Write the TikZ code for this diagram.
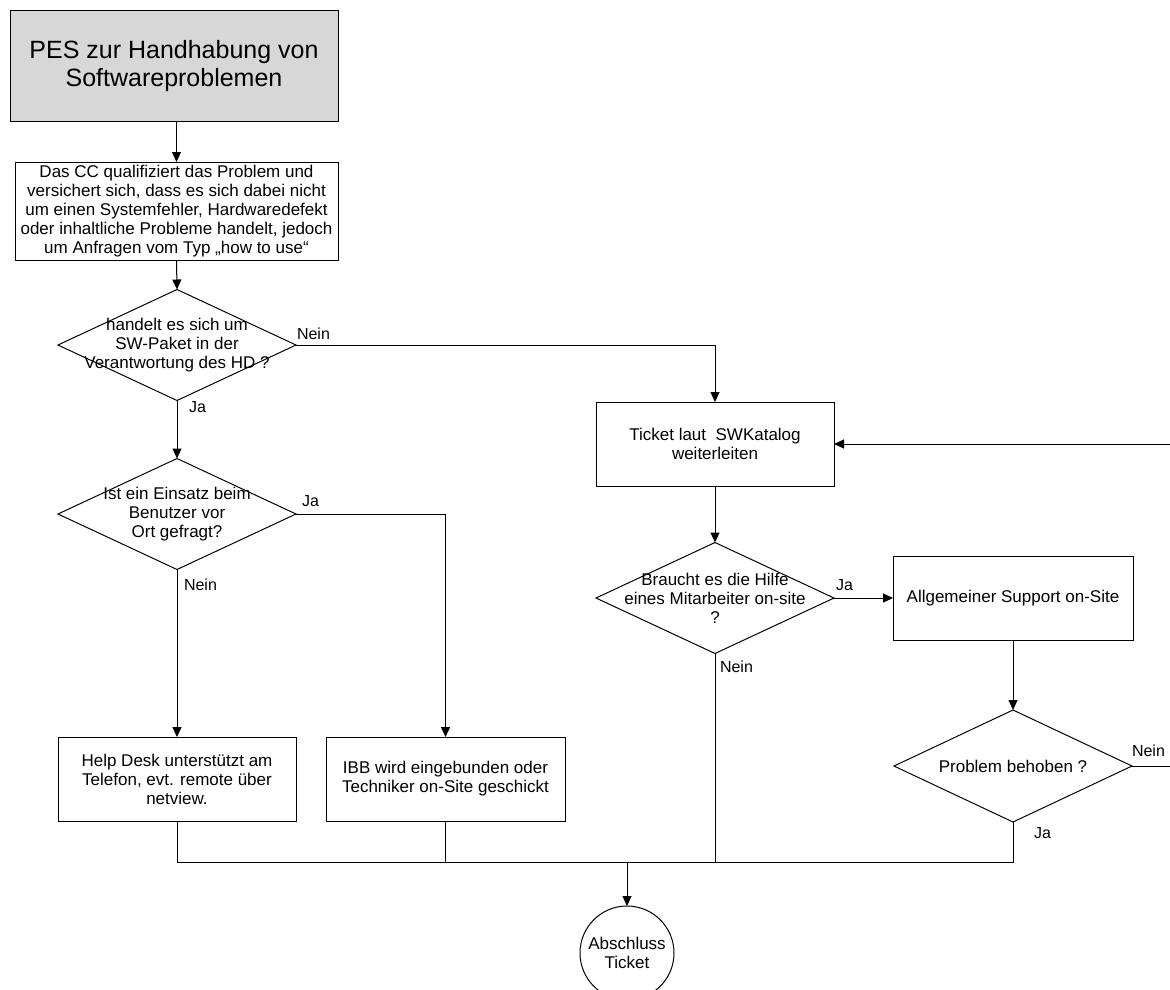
\documentclass[tikz,border=0pt]{standalone}
\usepackage{fontspec}
\setmainfont{Liberation Sans}
\usetikzlibrary{shapes.geometric,arrows.meta,calc}
\definecolor{titlegray}{RGB}{215,215,215}
\begin{document}
\begin{tikzpicture}[x=1pt,y=-1pt,
  every node/.style={inner sep=0pt, outer sep=0pt},
  txt/.style={font=\fontsize{17}{19}\selectfont, align=center},
  base/.style={draw=black, line width=1pt, txt},
  procbox/.style={base, rectangle, minimum width=238pt, minimum height=84pt},
  decision/.style={base, diamond, minimum width=238pt, minimum height=111pt},
  terminal/.style={base, circle, minimum size=94pt},
  lbl/.style={font=\fontsize{16}{19}\selectfont, anchor=base west},
  flow/.style={line width=1pt},
  arr/.style={flow, -{Triangle[length=10pt,width=9pt]}}
]
\useasboundingbox (0,0) rectangle (1170,989);

% left column
\node[base, fill=titlegray, minimum width=328pt, minimum height=111pt,
      font=\fontsize{25}{28}\selectfont] (title) at (174,66)
  {PES zur Handhabung von\\Softwareproblemen};
\node[base, minimum width=323pt, minimum height=98pt] (qualify) at (176.5,211)
  {Das CC qualifiziert das Problem und\\versichert sich, dass es sich dabei nicht\\um einen Systemfehler, Hardwaredefekt\\oder inhaltliche Probleme handelt, jedoch\\um Anfragen vom Typ „how to use“};
\node[decision, label={[txt]center:handelt es sich um\\SW-Paket in der\\Verantwortung des HD ?}] (d1) at (177,345) {};
\node[decision, label={[txt]center:Ist ein Einsatz beim\\Benutzer vor\\Ort gefragt?}] (d2) at (177,514) {};
\node[procbox] (help) at (177,779) {Help Desk unterstützt am\\Telefon, evt. remote über\\netview.};
\node[procbox, minimum width=239pt] (ibb) at (445.5,779) {IBB wird eingebunden oder\\Techniker on-Site geschickt};

% right column
\node[procbox] (ticket) at (715,444) {Ticket laut\ \ SWKatalog\\weiterleiten};
\node[decision, label={[txt]center:Braucht es die Hilfe\\eines Mitarbeiter on-site\\?}] (d3) at (715,598) {};
\node[procbox, minimum width=240pt] (support) at (1013,598) {Allgemeiner Support on-Site};
\node[decision, minimum height=112pt,
      label={[txt]center:Problem behoben ?}] (d4) at (1013,766) {};

% end
\node[terminal] (finish) at (627,953) {Abschluss\\Ticket};
\coordinate (join) at (627,862);

% connectors
\draw[arr] (qualify.north |- title.south) -- (qualify.north);
\draw[arr] (qualify.south) -- (d1.north);
\draw[arr] (d1.east) -| (ticket.north);
\draw[arr] (d1.south) -- (d2.north);
\draw[arr] (d2.east) -| (ibb.north);
\draw[arr] (d2.south) -- (help.north);
\draw[arr] (ticket.south) -- (d3.north);
\draw[arr] (d3.east) -- (support.west);
\draw[arr] (support.south) -- (d4.north);
\draw[arr] (d4.east) -- ++(50,0) |- (ticket.east);
\draw[flow] (help.south) |- (join) -| (d4.south);
\draw[flow] (ibb.south) -- (ibb.south |- join);
\draw[flow] (d3.south) -- (d3.south |- join);
\draw[arr] (join) -- (finish.north);

% branch labels
\node[lbl] (n1) at ($(d1.east)+(1,-6)$) {Nein};
\node[lbl] (j1) at ($(d1.south)+(12,12)$) {Ja};
\node[lbl] (j2) at ($(d2.east)+(6,-8)$) {Ja};
\node[lbl] (n2) at ($(d2.south)+(7,21)$) {Nein};
\node[lbl] (j3) at ($(d3.east)+(2,-8)$) {Ja};
\node[lbl] (n3) at ($(d3.south)+(5,19)$) {Nein};
\node[lbl] (n4) at ($(d4.east)+(0,-10)$) {Nein};
\node[lbl] (j4) at ($(d4.south)+(21,16)$) {Ja};
\end{tikzpicture}
\end{document}
